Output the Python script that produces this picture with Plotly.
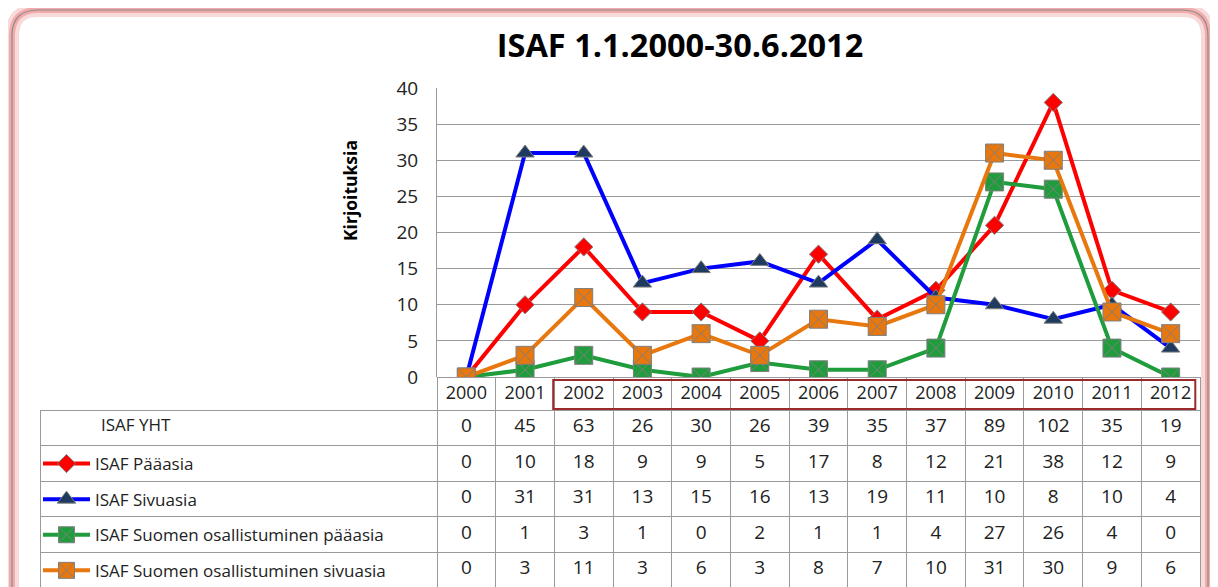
import plotly.graph_objects as go

years = [str(y) for y in range(2000, 2013)]
yht = [0, 45, 63, 26, 30, 26, 39, 35, 37, 89, 102, 35, 19]
paaasia = [0, 10, 18, 9, 9, 5, 17, 8, 12, 21, 38, 12, 9]
sivuasia = [0, 31, 31, 13, 15, 16, 13, 19, 11, 10, 8, 10, 4]
suomi_paa = [0, 1, 3, 1, 0, 2, 1, 1, 4, 27, 26, 4, 0]
suomi_sivu = [0, 3, 11, 3, 6, 3, 8, 7, 10, 31, 30, 9, 6]

names = ["ISAF YHT", "ISAF Pääasia", "ISAF Sivuasia",
         "ISAF Suomen osallistuminen pääasia", "ISAF Suomen osallistuminen sivuasia"]

# the page puts the figure 8px in from the top-left corner
OFF = 8
W, H = 1218 - OFF, 587 - OFF
L, R = 40, 1200               # table / content edges (screen px)
PX0, PY0, PY1 = 437, 88, 377  # plot area (screen px)


def px(x):
    return (x - L) / (R - L)


def py(y):
    return (H - (y - OFF)) / H


FONT = "Open Sans"
GRID = "#9a9a9a"

series = [
    (paaasia, names[1], "#ff0000", "diamond", 14, "#ff0000"),
    (sivuasia, names[2], "#0000ff", "triangle-up", 16, "#1f3a5f"),
    (suomi_paa, names[3], "#1f9c3c", "square-x", 18, "#1f9c3c"),
    (suomi_sivu, names[4], "#e8770e", "square-x", 18, "#e8770e"),
]

fig = go.Figure()
for vals, name, col, sym, size, mcol in series:
    fig.add_trace(go.Scatter(
        x=years, y=vals, name=name, mode="lines+markers",
        legendgroup=name,
        line=dict(color=col, width=4),
        marker=dict(symbol=sym, size=size, color=mcol,
                    line=dict(color="#7f7f7f", width=1)),
        xaxis="x", yaxis="y",
    ))

# data table below the chart
first_col = ["\u00a0" * 12 + names[0], "", "", "", ""]
cols = [first_col] + [[yht[i], paaasia[i], sivuasia[i], suomi_paa[i], suomi_sivu[i]]
                      for i in range(len(years))]
colw = [PX0 - L] + [(R - PX0) / len(years)] * len(years)
fig.add_trace(go.Table(
    domain=dict(x=[0, 1], y=[0, py(PY1)]),
    columnwidth=colw,
    header=dict(values=[""] + years, height=33,
                line=dict(color=["rgba(0,0,0,0)"] + [GRID] * len(years), width=1),
                fill=dict(color=["rgba(0,0,0,0)"] + ["white"] * len(years)),
                align="center",
                font=dict(family=FONT, size=18, color="#222")),
    cells=dict(values=cols, height=35.5,
               line=dict(color=GRID, width=1),
               fill=dict(color="white"),
               align=["left"] + ["center"] * len(years),
               font=dict(family=FONT, size=[17] + [19] * len(years), color="#222")),
))

# rounded frame with a pink glow
r = 26
x0, x1, yt, yb = 12, 1208, 10, 640
frame = (f"M{px(x0)},{py(yb)} L{px(x0)},{py(yt + r)} "
         f"Q{px(x0)},{py(yt)} {px(x0 + r)},{py(yt)} "
         f"L{px(x1 - r)},{py(yt)} Q{px(x1)},{py(yt)} {px(x1)},{py(yt + r)} "
         f"L{px(x1)},{py(yb)}")
shapes = [
    dict(type="path", path=frame, xref="paper", yref="paper",
         line=dict(color="rgba(236,150,150,0.35)", width=14), layer="below"),
    dict(type="path", path=frame, xref="paper", yref="paper",
         line=dict(color="rgba(236,140,140,0.6)", width=6), layer="below"),
    dict(type="path", path=frame, xref="paper", yref="paper",
         line=dict(color="#8c8c8c", width=1.2), layer="below"),
    # highlight box around 2002-2012
    dict(type="rect", xref="x", yref="paper", x0=1.48, x1=12.42,
         y0=py(409), y1=py(380), line=dict(color="#9b2a2a", width=2)),
]

fig.update_layout(
    width=W, height=H,
    margin=dict(l=L - OFF, r=W - (R - OFF), t=0, b=0, autoexpand=False),
    paper_bgcolor="white", plot_bgcolor="white",
    title=dict(text="<b>ISAF 1.1.2000-30.6.2012</b>", x=(680 - OFF) / W,
               y=1 - (46 - OFF) / H, xanchor="center", yanchor="middle",
               font=dict(family=FONT, size=32.5, color="black")),
    xaxis=dict(type="category", domain=[px(PX0), 1], range=[-0.5, 12.5],
               showticklabels=False, showgrid=False, zeroline=False,
               showline=False, ticks=""),
    yaxis=dict(domain=[py(PY1), py(PY0)], range=[0, 40], dtick=5,
               showgrid=True, gridcolor=GRID, gridwidth=1, zeroline=False,
               showline=True, linecolor=GRID, linewidth=1, ticks="",
               ticklabelstandoff=14,
               tickfont=dict(family=FONT, size=19, color="#222")),
    showlegend=True,
    legend=dict(x=px(38), y=py(446), xanchor="left", yanchor="top",
                orientation="v", tracegroupgap=10.5, itemwidth=47,
                bgcolor="rgba(0,0,0,0)",
                font=dict(family=FONT, size=17, color="#222")),
    annotations=[dict(text="<b>Kirjoituksia</b>", textangle=-90,
                      xref="paper", yref="paper", x=px(350), y=py(191),
                      xanchor="center", yanchor="middle", showarrow=False,
                      font=dict(family=FONT, size=17.5, color="black"))],
    shapes=shapes,
)

fig.write_html("out.html")
